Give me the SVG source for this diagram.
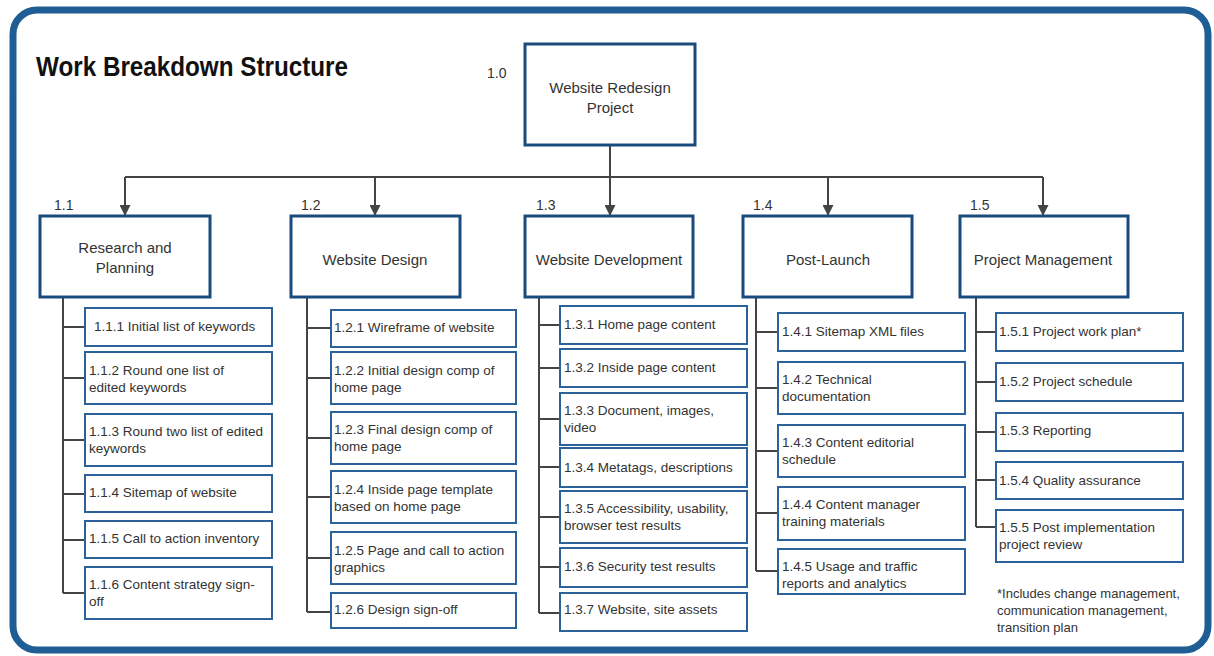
<svg xmlns="http://www.w3.org/2000/svg" width="1214" height="656" viewBox="0 0 1214 656">
<defs>
<style>
text{font-family:"Liberation Sans",Arial,sans-serif;fill:#333}
.title{font-size:27px;font-weight:bold;fill:#111}
.num{font-size:14px}
.l1{font-size:15px;text-anchor:middle}
.l2{font-size:15px;text-anchor:middle}
.l3{font-size:13.5px}
.note{font-size:13px}
.b1{fill:#fff;stroke:#1a4b7d;stroke-width:3}
.b3{fill:#fff;stroke:#2b629a;stroke-width:2}
.c{fill:none;stroke:#444;stroke-width:2}
</style>
<marker id="ah" viewBox="0 0 10 10" refX="10" refY="5" markerWidth="5.5" markerHeight="5.5" orient="auto" markerUnits="strokeWidth">
<path d="M0,0 L10,5 L0,10 z" fill="#444"/>
</marker>
</defs>
<rect x="13" y="10" width="1195" height="640" rx="24" fill="#fff" stroke="#1f5e95" stroke-width="7"/>
<text class="title" x="36" y="76" textLength="312" lengthAdjust="spacingAndGlyphs">Work Breakdown Structure</text>

<g id="connectors">
<path class="c" d="M610,146 V216" marker-end="url(#ah)"/>
<path class="c" d="M125,177 H1043"/>
<path class="c" d="M125,177 V216" marker-end="url(#ah)"/>
<path class="c" d="M375,177 V216" marker-end="url(#ah)"/>
<path class="c" d="M828,177 V216" marker-end="url(#ah)"/>
<path class="c" d="M1043,177 V216" marker-end="url(#ah)"/>
<path class="c" d="M63,297 V593 M63,327 H85 M63,378 H85 M63,440 H85 M63,494 H85 M63,540 H85 M63,593 H85"/>
<path class="c" d="M307,297 V612 M307,328 H331 M307,378 H331 M307,438 H331 M307,497 H331 M307,558 H331 M307,612 H331"/>
<path class="c" d="M539,297 V613 M539,325 H560 M539,368 H560 M539,419 H560 M539,467 H560 M539,517 H560 M539,567 H560 M539,613 H560"/>
<path class="c" d="M756,297 V571 M756,332 H778 M756,388 H778 M756,451 H778 M756,513 H778 M756,571 H778"/>
<path class="c" d="M976,297 V527 M976,332 H996 M976,382 H996 M976,432 H996 M976,480 H996 M976,527 H996"/>
</g>

<g id="n1.0">
<text class="num" x="487" y="78">1.0</text>
<rect class="b1" x="525" y="44" width="170" height="101"/>
<text class="l1" x="610" y="93">Website Redesign</text>
<text class="l1" x="610" y="113">Project</text>
</g>

<g id="n1.1">
<text class="num" x="54" y="210">1.1</text>
<rect class="b1" x="40" y="216" width="170" height="81"/>
<text class="l2" x="125" y="253">Research and</text>
<text class="l2" x="125" y="273">Planning</text>
</g>
<g id="n1.2">
<text class="num" x="301" y="210">1.2</text>
<rect class="b1" x="291" y="216" width="169" height="81"/>
<text class="l2" x="375" y="265">Website Design</text>
</g>
<g id="n1.3">
<text class="num" x="536" y="210">1.3</text>
<rect class="b1" x="525" y="216" width="168" height="81"/>
<text class="l2" x="609" y="265">Website Development</text>
</g>
<g id="n1.4">
<text class="num" x="753" y="210">1.4</text>
<rect class="b1" x="743" y="216" width="169" height="81"/>
<text class="l2" x="828" y="265">Post-Launch</text>
</g>
<g id="n1.5">
<text class="num" x="970" y="210">1.5</text>
<rect class="b1" x="960" y="216" width="168" height="81"/>
<text class="l2" x="1043" y="265">Project Management</text>
</g>

<g id="n1.1.1"><rect class="b3" x="85" y="308" width="187" height="38"/><text class="l3" x="94" y="331">1.1.1 Initial list of keywords</text></g>
<g id="n1.1.2"><rect class="b3" x="85" y="352" width="187" height="52"/><text class="l3" x="89" y="375">1.1.2 Round one list of</text><text class="l3" x="89" y="392">edited keywords</text></g>
<g id="n1.1.3"><rect class="b3" x="85" y="414" width="187" height="52"/><text class="l3" x="89" y="436">1.1.3 Round two list of edited</text><text class="l3" x="89" y="453">keywords</text></g>
<g id="n1.1.4"><rect class="b3" x="85" y="475" width="187" height="37"/><text class="l3" x="89" y="497">1.1.4 Sitemap of website</text></g>
<g id="n1.1.5"><rect class="b3" x="85" y="521" width="187" height="37"/><text class="l3" x="89" y="543">1.1.5 Call to action inventory</text></g>
<g id="n1.1.6"><rect class="b3" x="85" y="567" width="187" height="52"/><text class="l3" x="89" y="589">1.1.6 Content strategy sign-</text><text class="l3" x="89" y="606">off</text></g>

<g id="n1.2.1"><rect class="b3" x="331" y="310" width="185" height="37"/><text class="l3" x="334" y="332">1.2.1 Wireframe of website</text></g>
<g id="n1.2.2"><rect class="b3" x="331" y="352" width="185" height="52"/><text class="l3" x="334" y="375">1.2.2 Initial design comp of</text><text class="l3" x="334" y="392">home page</text></g>
<g id="n1.2.3"><rect class="b3" x="331" y="412" width="185" height="52"/><text class="l3" x="334" y="434">1.2.3 Final design comp of</text><text class="l3" x="334" y="451">home page</text></g>
<g id="n1.2.4"><rect class="b3" x="331" y="471" width="185" height="52"/><text class="l3" x="334" y="494">1.2.4 Inside page template</text><text class="l3" x="334" y="511">based on home page</text></g>
<g id="n1.2.5"><rect class="b3" x="331" y="532" width="185" height="52"/><text class="l3" x="334" y="555">1.2.5 Page and call to action</text><text class="l3" x="334" y="572">graphics</text></g>
<g id="n1.2.6"><rect class="b3" x="331" y="593" width="185" height="35"/><text class="l3" x="334" y="614">1.2.6 Design sign-off</text></g>

<g id="n1.3.1"><rect class="b3" x="560" y="306" width="187" height="38"/><text class="l3" x="564" y="329">1.3.1 Home page content</text></g>
<g id="n1.3.2"><rect class="b3" x="560" y="349" width="187" height="38"/><text class="l3" x="564" y="372">1.3.2 Inside page content</text></g>
<g id="n1.3.3"><rect class="b3" x="560" y="393" width="187" height="52"/><text class="l3" x="564" y="415">1.3.3 Document, images,</text><text class="l3" x="564" y="432">video</text></g>
<g id="n1.3.4"><rect class="b3" x="560" y="448" width="187" height="39"/><text class="l3" x="564" y="472">1.3.4 Metatags, descriptions</text></g>
<g id="n1.3.5"><rect class="b3" x="560" y="491" width="187" height="52"/><text class="l3" x="564" y="513">1.3.5 Accessibility, usability,</text><text class="l3" x="564" y="530">browser test results</text></g>
<g id="n1.3.6"><rect class="b3" x="560" y="548" width="187" height="39"/><text class="l3" x="564" y="571">1.3.6 Security test results</text></g>
<g id="n1.3.7"><rect class="b3" x="560" y="593" width="187" height="38"/><text class="l3" x="564" y="614">1.3.7 Website, site assets</text></g>

<g id="n1.4.1"><rect class="b3" x="778" y="313" width="187" height="38"/><text class="l3" x="782" y="336">1.4.1 Sitemap XML files</text></g>
<g id="n1.4.2"><rect class="b3" x="778" y="362" width="187" height="52"/><text class="l3" x="782" y="384">1.4.2 Technical</text><text class="l3" x="782" y="401">documentation</text></g>
<g id="n1.4.3"><rect class="b3" x="778" y="425" width="187" height="52"/><text class="l3" x="782" y="447">1.4.3 Content editorial</text><text class="l3" x="782" y="464">schedule</text></g>
<g id="n1.4.4"><rect class="b3" x="778" y="487" width="187" height="53"/><text class="l3" x="782" y="509">1.4.4 Content manager</text><text class="l3" x="782" y="526">training materials</text></g>
<g id="n1.4.5"><rect class="b3" x="778" y="549" width="187" height="45"/><text class="l3" x="782" y="571">1.4.5 Usage and traffic</text><text class="l3" x="782" y="588">reports and analytics</text></g>

<g id="n1.5.1"><rect class="b3" x="996" y="313" width="187" height="38"/><text class="l3" x="999" y="336">1.5.1 Project work plan*</text></g>
<g id="n1.5.2"><rect class="b3" x="996" y="363" width="187" height="38"/><text class="l3" x="999" y="386">1.5.2 Project schedule</text></g>
<g id="n1.5.3"><rect class="b3" x="996" y="413" width="187" height="38"/><text class="l3" x="999" y="435">1.5.3 Reporting</text></g>
<g id="n1.5.4"><rect class="b3" x="996" y="462" width="187" height="37"/><text class="l3" x="999" y="485">1.5.4 Quality assurance</text></g>
<g id="n1.5.5"><rect class="b3" x="996" y="510" width="187" height="52"/><text class="l3" x="999" y="532">1.5.5 Post implementation</text><text class="l3" x="999" y="549">project review</text></g>

<g id="footnote">
<text class="note" x="997" y="598">*Includes change management,</text>
<text class="note" x="997" y="615">communication management,</text>
<text class="note" x="997" y="632">transition plan</text>
</g>
</svg>
